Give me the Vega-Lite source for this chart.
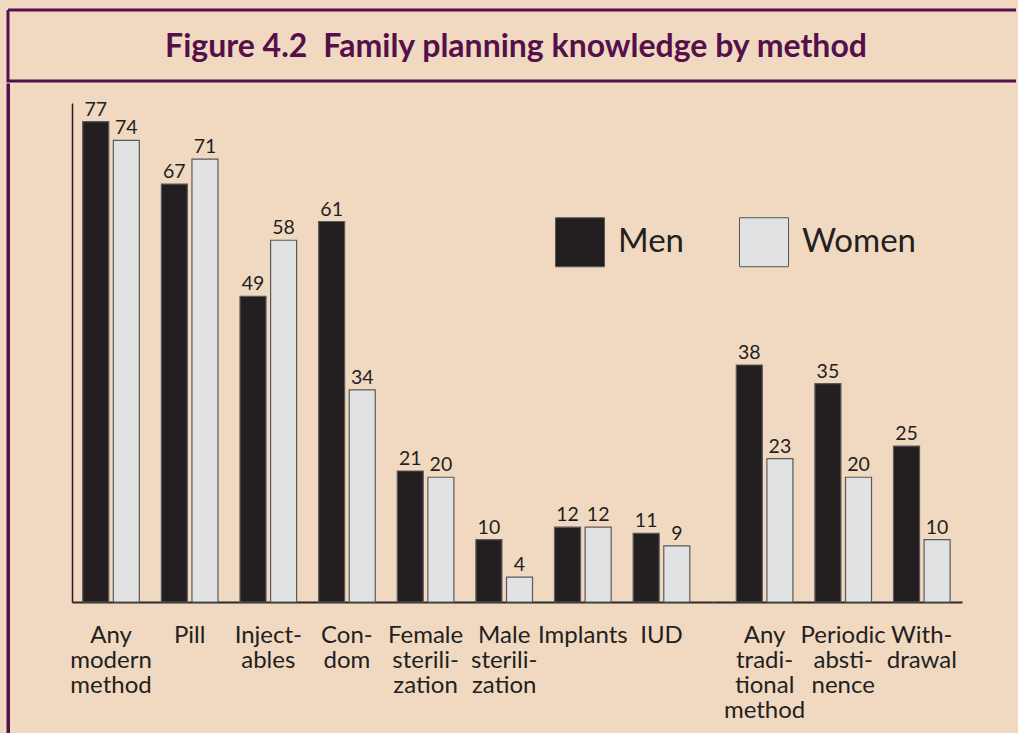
{
  "$schema": "https://vega.github.io/schema/vega-lite/v6.json",
  "background": "#f0d9c0",
  "padding": {"left": 6, "top": 8, "right": 0, "bottom": 0},
  "datasets": {
    "knowledge": [
      {"method": "Any modern method", "group": "modern", "sex": "Men", "value": 77},
      {"method": "Any modern method", "group": "modern", "sex": "Women", "value": 74},
      {"method": "Pill", "group": "modern", "sex": "Men", "value": 67},
      {"method": "Pill", "group": "modern", "sex": "Women", "value": 71},
      {"method": "Injectables", "group": "modern", "sex": "Men", "value": 49},
      {"method": "Injectables", "group": "modern", "sex": "Women", "value": 58},
      {"method": "Condom", "group": "modern", "sex": "Men", "value": 61},
      {"method": "Condom", "group": "modern", "sex": "Women", "value": 34},
      {"method": "Female sterilization", "group": "modern", "sex": "Men", "value": 21},
      {"method": "Female sterilization", "group": "modern", "sex": "Women", "value": 20},
      {"method": "Male sterilization", "group": "modern", "sex": "Men", "value": 10},
      {"method": "Male sterilization", "group": "modern", "sex": "Women", "value": 4},
      {"method": "Implants", "group": "modern", "sex": "Men", "value": 12},
      {"method": "Implants", "group": "modern", "sex": "Women", "value": 12},
      {"method": "IUD", "group": "modern", "sex": "Men", "value": 11},
      {"method": "IUD", "group": "modern", "sex": "Women", "value": 9},
      {"method": "Any traditional method", "group": "traditional", "sex": "Men", "value": 38},
      {"method": "Any traditional method", "group": "traditional", "sex": "Women", "value": 23},
      {"method": "Periodic abstinence", "group": "traditional", "sex": "Men", "value": 35},
      {"method": "Periodic abstinence", "group": "traditional", "sex": "Women", "value": 20},
      {"method": "Withdrawal", "group": "traditional", "sex": "Men", "value": 25},
      {"method": "Withdrawal", "group": "traditional", "sex": "Women", "value": 10}
    ]
  },
  "spacing": 0,
  "vconcat": [
    {
      "data": {"values": [{"title": "Figure 4.2\u2002Family planning knowledge by method"}]},
      "width": 1008,
      "height": 71,
      "view": {"stroke": "#55104b", "strokeWidth": 3, "fill": "#f0d9c0", "strokeDash": [1008, 71, 1079, 0]},
      "mark": {"type": "text", "font": "Lato", "fontWeight": "bold", "fontSize": 32, "color": "#55104b", "dx": 4, "dy": 1},
      "encoding": {"text": {"field": "title"}}
    },
    {
      "spacing": 58,
      "hconcat": [
        {
          "data": {"values": [{"k": 1}]},
          "width": 0.5,
          "height": 648,
          "view": {"stroke": "#55104b", "strokeWidth": 3},
          "mark": {"type": "point", "opacity": 0, "size": 1},
          "encoding": {}
        },
        {
          "spacing": 0,
          "hconcat": [
            {
              "data": {"name": "knowledge"},
              "transform": [{"filter": "datum.group === 'modern'"}],
              "width": 641,
              "height": 517,
              "encoding": {
                "x": {
                  "field": "method", "type": "nominal", "sort": null,
                  "scale": {"paddingInner": 0.28, "paddingOuter": 0.2157, "align": 0.316, "round": false},
                  "axis": {
                    "title": null, "ticks": false, "domainColor": "#2a2a2a", "domainWidth": 2,
                    "labelFont": "Lato", "labelFontSize": 24, "labelLineHeight": 25, "labelColor": "#231f20",
                    "labelPadding": 21, "labelBaseline": "top", "labelAngle": 0, "labelOverlap": false, "labelLimit": 300,
                    "labelExpr": "{'Any modern method': ['Any','modern','method'], 'Pill': 'Pill', 'Injectables': ['Inject-','ables'], 'Condom': ['Con-','dom'], 'Female sterilization': ['Female','sterili-','zation'], 'Male sterilization': ['Male','sterili-','zation'], 'Implants': 'Implants', 'IUD': 'IUD'}[datum.value]"
                  }
                },
                "xOffset": {"field": "sex", "type": "nominal", "sort": ["Men", "Women"], "scale": {"paddingInner": 0.15, "paddingOuter": 0, "round": false}},
                "y": {
                  "field": "value", "type": "quantitative",
                  "scale": {"domain": [0, 80], "range": [517, 18], "nice": false},
                  "axis": {"title": null, "ticks": false, "labels": false, "grid": false, "domainColor": "#231f20", "domainWidth": 1.5}
                }
              },
              "layer": [
                {
                  "mark": {"type": "bar", "stroke": "#5a5a5a", "strokeWidth": 1.2},
                  "encoding": {
                    "color": {
                      "field": "sex", "type": "nominal",
                      "scale": {"domain": ["Men", "Women"], "range": ["#231f20", "#e1e2e4"]},
                      "legend": {
                        "orient": "none", "legendX": 547, "legendY": 207, "direction": "horizontal", "title": null,
                        "symbolType": "square", "symbolSize": 2401, "symbolStrokeColor": "#555555", "symbolStrokeWidth": 1,
                        "symbolOpacity": 1,
                        "labelFont": "Lato", "labelFontSize": 33, "labelColor": "#231f20", "labelOffset": 13,
                        "columnPadding": 53, "padding": 0, "labelLimit": 300
                      }
                    }
                  }
                },
                {
                  "mark": {"type": "text", "font": "Lato", "fontSize": 19.5, "color": "#231f20", "baseline": "alphabetic", "dy": -6},
                  "encoding": {"text": {"field": "value", "type": "quantitative"}}
                }
              ]
            },
            {
              "data": {"name": "knowledge"},
              "transform": [{"filter": "datum.group === 'traditional'"}],
              "width": 249,
              "height": 517,
              "encoding": {
                "x": {
                  "field": "method", "type": "nominal", "sort": null,
                  "scale": {"paddingInner": 0.28, "paddingOuter": 0.224, "align": 0.662, "round": false},
                  "axis": {
                    "title": null, "ticks": false, "domainColor": "#2a2a2a", "domainWidth": 2,
                    "labelFont": "Lato", "labelFontSize": 24, "labelLineHeight": 25, "labelColor": "#231f20",
                    "labelPadding": 21, "labelBaseline": "top", "labelAngle": 0, "labelOverlap": false, "labelLimit": 300,
                    "labelExpr": "{'Any traditional method': ['Any','tradi-','tional','method'], 'Periodic abstinence': ['Periodic','absti-','nence'], 'Withdrawal': ['With-','drawal']}[datum.value]"
                  }
                },
                "xOffset": {"field": "sex", "type": "nominal", "sort": ["Men", "Women"], "scale": {"paddingInner": 0.15, "paddingOuter": 0, "round": false}},
                "y": {
                  "field": "value", "type": "quantitative",
                  "scale": {"domain": [0, 80], "range": [517, 18], "nice": false},
                  "axis": null
                }
              },
              "layer": [
                {
                  "mark": {"type": "bar", "stroke": "#5a5a5a", "strokeWidth": 1.2},
                  "encoding": {
                    "color": {
                      "field": "sex", "type": "nominal",
                      "scale": {"domain": ["Men", "Women"], "range": ["#231f20", "#e1e2e4"]},
                      "legend": {
                        "orient": "none", "legendX": 547, "legendY": 207, "direction": "horizontal", "title": null,
                        "symbolType": "square", "symbolSize": 2401, "symbolStrokeColor": "#555555", "symbolStrokeWidth": 1,
                        "symbolOpacity": 1,
                        "labelFont": "Lato", "labelFontSize": 33, "labelColor": "#231f20", "labelOffset": 13,
                        "columnPadding": 53, "padding": 0, "labelLimit": 300
                      }
                    }
                  }
                },
                {
                  "mark": {"type": "text", "font": "Lato", "fontSize": 19.5, "color": "#231f20", "baseline": "alphabetic", "dy": -6},
                  "encoding": {"text": {"field": "value", "type": "quantitative"}}
                }
              ]
            }
          ]
        }
      ]
    }
  ],
  "config": {
    "view": {"stroke": null},
    "axis": {"grid": false},
    "font": "Lato"
  }
}
